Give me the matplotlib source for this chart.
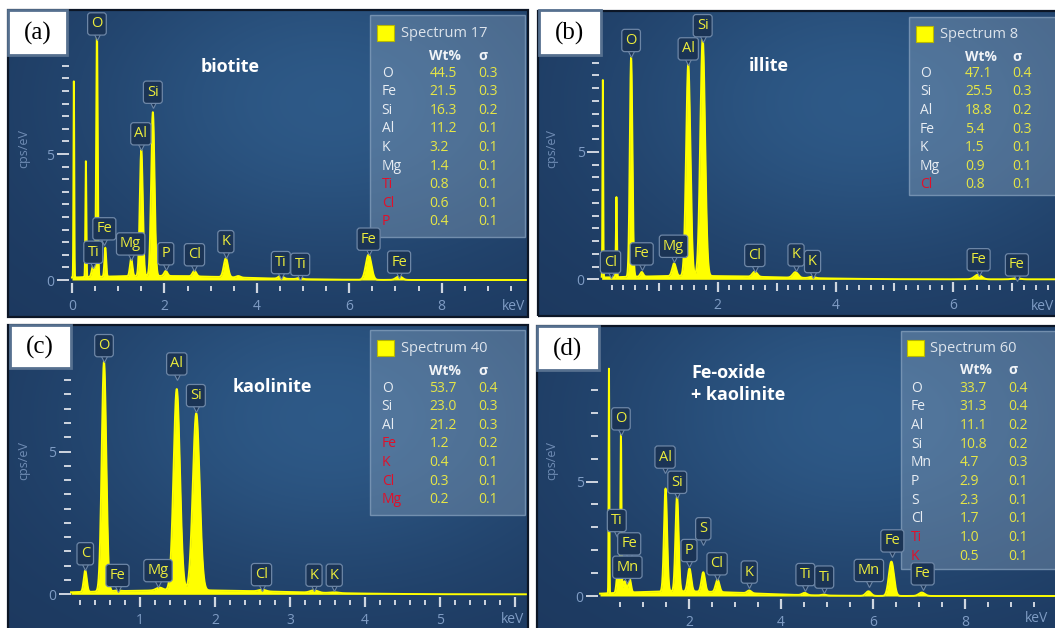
"""
EDS spectra of four clay grains: (a) biotite, (b) illite, (c) kaolinite,
(d) Fe-oxide + kaolinite. Peaks and quantification tables read off the
original instrument screenshots.
"""

import numpy as np
import matplotlib
matplotlib.use("Agg")
import matplotlib.pyplot as plt
from matplotlib.patches import Rectangle
from matplotlib.transforms import Affine2D
from matplotlib.ticker import FixedLocator

W, H = 1055, 628

# --- (a) biotite -------------------------------------------------------------
A_PEAK_KEV = [0.04, 0.30, 0.46, 0.54, 0.72, 1.28, 1.50, 1.75, 2.03, 2.65, 3.33, 3.60, 4.52, 4.93, 6.42, 7.08]
A_PEAK_CPS = [7.8, 4.6, 0.45, 9.7, 1.15, 0.7, 5.0, 6.5, 0.2, 0.22, 0.75, 0.06, 0.12, 0.05, 1.0, 0.15]
A_PEAK_SIG = [0.008, 0.01, 0.03, 0.016, 0.018, 0.026, 0.032, 0.036, 0.035, 0.04, 0.045, 0.045, 0.05, 0.05, 0.06, 0.065]
A_CONTINUUM = (1.8, 0.16, 1.8)          # centre keV, cps/eV, width keV
A_TAG_EL = ["O", "Si", "Al", "Fe", "Ti", "Mg", "P", "Cl", "K", "Ti", "Ti", "Fe", "Fe"]
A_TAG_KEV = [0.54, 1.75, 1.49, 0.70, 0.46, 1.27, 2.03, 2.65, 3.33, 4.52, 4.94, 6.42, 7.08]
A_SPECTRUM = "Spectrum 17"
A_EL = ["O", "Fe", "Si", "Al", "K", "Mg", "Ti", "Cl", "P"]
A_WT = [44.5, 21.5, 16.3, 11.2, 3.2, 1.4, 0.8, 0.6, 0.4]
A_SIGMA = [0.3, 0.3, 0.2, 0.1, 0.1, 0.1, 0.1, 0.1, 0.1]
A_FLAGGED = ["Ti", "Cl", "P"]
A_NAME = "biotite"

# --- (b) illite --------------------------------------------------------------
B_PEAK_KEV = [0.05, 0.28, 0.53, 0.71, 1.26, 1.50, 1.745, 2.63, 3.32, 3.60, 6.42, 7.07]
B_PEAK_CPS = [7.75, 3.15, 8.6, 0.18, 0.5, 8.3, 9.3, 0.2, 0.22, 0.05, 0.18, 0.04]
B_PEAK_SIG = [0.006, 0.008, 0.022, 0.025, 0.032, 0.036, 0.04, 0.04, 0.045, 0.045, 0.06, 0.065]
B_CONTINUUM = (1.6, 0.13, 1.4)
B_TAG_EL = ["O", "Al", "Si", "Cl", "Fe", "Mg", "Cl", "K", "K", "Fe", "Fe"]
B_TAG_KEV = [0.53, 1.50, 1.745, 0.18, 0.71, 1.25, 2.63, 3.33, 3.61, 6.43, 7.08]
B_SPECTRUM = "Spectrum 8"
B_EL = ["O", "Si", "Al", "Fe", "K", "Mg", "Cl"]
B_WT = [47.1, 25.5, 18.8, 5.4, 1.5, 0.9, 0.8]
B_SIGMA = [0.4, 0.3, 0.2, 0.3, 0.1, 0.1, 0.1]
B_FLAGGED = ["Cl"]
B_NAME = "illite"

# --- (c) kaolinite -----------------------------------------------------------
C_PEAK_KEV = [0.27, 0.52, 0.70, 1.26, 1.49, 1.75, 2.63, 3.32, 3.59]
C_PEAK_CPS = [0.75, 8.05, 0.03, 0.1, 7.05, 6.2, 0.06, 0.08, 0.03]
C_PEAK_SIG = [0.02, 0.03, 0.035, 0.045, 0.042, 0.045, 0.045, 0.05, 0.05]
C_CONTINUUM = (1.6, 0.14, 1.3)
C_TAG_EL = ["O", "Al", "Si", "C", "Fe", "Mg", "Cl", "K", "K"]
C_TAG_KEV = [0.52, 1.49, 1.745, 0.27, 0.70, 1.24, 2.62, 3.32, 3.59]
C_SPECTRUM = "Spectrum 40"
C_EL = ["O", "Si", "Al", "Fe", "K", "Cl", "Mg"]
C_WT = [53.7, 23.0, 21.2, 1.2, 0.4, 0.3, 0.2]
C_SIGMA = [0.4, 0.3, 0.3, 0.2, 0.1, 0.1, 0.1]
C_FLAGGED = ["Fe", "K", "Cl", "Mg"]
C_NAME = "kaolinite"

# --- (d) Fe-oxide + kaolinite ------------------------------------------------
D_PEAK_KEV = [0.26, 0.45, 0.52, 0.60, 0.71, 1.49, 1.74, 2.01, 2.31, 2.62, 3.31, 4.51, 4.93, 5.90, 6.40, 7.06]
D_PEAK_CPS = [9.9, 0.9, 6.9, 0.5, 0.6, 4.5, 4.15, 1.0, 0.85, 0.55, 0.12, 0.1, 0.04, 0.2, 1.5, 0.15]
D_PEAK_SIG = [0.007, 0.025, 0.012, 0.03, 0.028, 0.033, 0.034, 0.038, 0.038, 0.04, 0.045, 0.05, 0.05, 0.055, 0.055, 0.065]
D_CONTINUUM = (1.8, 0.2, 1.5)
D_TAG_EL = ["O", "Al", "Si", "Ti", "Fe", "Mn", "P", "S", "Cl", "K", "Ti", "Ti", "Mn", "Fe", "Fe"]
D_TAG_KEV = [0.52, 1.48, 1.745, 0.43, 0.70, 0.66, 2.0, 2.31, 2.61, 3.31, 4.53, 4.94, 5.91, 6.42, 7.08]
D_SPECTRUM = "Spectrum 60"
D_EL = ["O", "Fe", "Al", "Si", "Mn", "P", "S", "Cl", "Ti", "K"]
D_WT = [33.7, 31.3, 11.1, 10.8, 4.7, 2.9, 2.3, 1.7, 1.0, 0.5]
D_SIGMA = [0.4, 0.4, 0.2, 0.2, 0.3, 0.1, 0.1, 0.1, 0.1, 0.1]
D_FLAGGED = ["Ti", "K"]
D_NAME = "Fe-oxide\n+ kaolinite"

# --- layout (pixel positions inside the 1055x628 canvas) ----------------------
LAYOUT = {
    "a": dict(frame=(8, 10, 528, 317), x0=72.0, ppk=46.2, y0=280.0, ppu=25.2, e0=0.0,
              yspine=68.5, ystep=0.5, ytop=8.5, xminor=0.5, xend=9.6, xmajor=[0, 2, 4, 6, 8],
              xlab=["0", "2", "4", "6", "8"], xmid=None, kev=9.55, kev_dy=27,
              tag=(8, 10, 67, 55), name=(230, 67, "center"), cps=(23.5, 148),
              tag_y=[9.72, 7.01, 5.36, 1.59, 0.66, 0.99, 0.6, 0.56, 1.08, 0.25, 0.18, 1.18, 0.27],
              leg=dict(box=(370, 15, 525, 237), sq=(377, 25, 17), title=(401, 33.3), head=55.7,
                       row0=73.3, dy=18.55, el=381.7, wt=429.3, sg=478.3)),
    "b": dict(frame=(538, 11, 1060, 316), x0=599.9, ppk=58.9, y0=279.3, ppu=25.5, e0=0.03,
              yspine=599.4, ystep=0.5, ytop=8.5, xminor=0.2, xend=7.8, xmajor=[2, 4, 6],
              xlab=["2", "4", "6"], xmid=[1, 3, 5, 7], kev=7.52, kev_dy=27,
              tag=(539, 10, 601, 55), name=(769, 66, "center"), cps=(552, 148),
              tag_y=[8.93, 8.6, 9.51, 0.24, 0.56, 0.86, 0.5, 0.52, 0.26, 0.33, 0.13],
              leg=dict(box=(909, 17, 1060, 195), sq=(916, 26, 17), title=(940, 34), head=56.7,
                       row0=73.3, dy=18.57, el=920, wt=965, sg=1012.7)),
    "c": dict(frame=(8, 325, 528, 632), x0=65.0, ppk=75.0, y0=594.3, ppu=28.55, e0=0.08,
              yspine=70.5, ystep=0.5, ytop=7.5, xminor=0.2, xend=6.1, xmajor=[1, 2, 3, 4, 5, 6],
              xlab=["1", "2", "3", "4", "5", ""], xmid=None, kev=5.97, kev_dy=25,
              tag=(9.5, 325, 71, 368), name=(272, 387, "center"), cps=(23.5, 460),
              tag_y=[8.32, 7.68, 6.57, 1.03, 0.27, 0.44, 0.3, 0.28, 0.28],
              leg=dict(box=(370, 330, 525, 515), sq=(377, 340, 17), title=(401, 348.3), head=370.7,
                       row0=388.3, dy=18.55, el=381.7, wt=429.3, sg=478.3)),
    "d": dict(frame=(537, 326, 1060, 632), x0=597.0, ppk=46.0, y0=596.0, ppu=22.9, e0=0.065,
              yspine=598.3, ystep=1.0, ytop=9.0, xminor=0.5, xend=10.0, xmajor=[2, 4, 6, 8],
              xlab=["2", "4", "6", "8"], xmid=None, kev=9.56, kev_dy=23,
              tag=(537, 326, 599, 370), name=(691, 372.8, "left"), cps=(552, 460),
              tag_y=[7.25, 5.58, 4.48, 2.81, 1.79, 0.77, 1.5, 2.45, 0.92, 0.56, 0.45, 0.34, 0.63, 1.92, 0.48],
              leg=dict(box=(901, 331, 1060, 569), sq=(907, 340, 17), title=(930.5, 348), head=370,
                       row0=388, dy=18.7, el=911, wt=959.7, sg=1008.5)),
}

YELLOW = "#ffff00"
TICK = "#cfd6e0"
TICKLAB = "#7f9cc4"
BOXFACE = "#1b3455"
BOXEDGE = "#6d86a6"
TAGTXT = "#ecec3c"
WTTXT = "#e6e646"
ELTXT = "#e8edf3"
REDTXT = "#e0102a"

plt.rcParams["font.family"] = ["Open Sans", "DejaVu Sans"]


def spectrum(e, kev, cps, sig, cont):
    y = cont[1] * np.exp(-0.5 * ((e - cont[0]) / cont[2]) ** 2)
    for k, c, s in zip(kev, cps, sig):
        y = y + c * np.exp(-0.5 * ((e - k) / s) ** 2)
    return y


def backdrop(ax):
    u = np.linspace(0, 1, 200)[None, :]
    v = np.linspace(1, 0, 120)[:, None]
    g = np.exp(-((u - 0.62) / 0.5) ** 2 - ((v - 0.7) / 0.55) ** 2)
    dark = np.array([0.11, 0.22, 0.37])
    light = np.array([0.18, 0.35, 0.53])
    img = dark + (light - dark) * g[..., None]
    ax.imshow(img, extent=(0, 1, 0, 1), transform=ax.transAxes, aspect="auto",
              zorder=0, interpolation="bilinear")


def draw_panel(fig, pix, letter, lay, kev, cps, sig, cont, tag_el, tag_kev,
               spec_name, els, wts, sigmas, flagged, name):
    l, t, r, b = lay["frame"]
    x0, ppk, y0, ppu = lay["x0"], lay["ppk"], lay["y0"], lay["ppu"]
    ax = fig.add_axes([l / W, 1 - b / H, (r - l) / W, (b - t) / H])
    backdrop(ax)
    xlim = ((l - x0) / ppk, (r - x0) / ppk)
    ylim = ((y0 - b) / ppu, (y0 - t) / ppu)

    # spectrum
    e = np.linspace(lay["e0"], xlim[1], 5000)
    y = spectrum(e, kev, cps, sig, cont)
    ax.fill_between(e, 0, y, color=YELLOW, lw=0, zorder=3)
    ax.plot(e, y, color=YELLOW, lw=1.4, zorder=3)

    ax.set_xlim(*xlim)
    ax.set_ylim(*ylim)

    # axes: ticks only, spines hidden and moved to where the ticks sit
    for s in ax.spines.values():
        s.set_visible(False)
    ax.spines["left"].set_position(("data", (lay["yspine"] - x0) / ppk))
    ax.spines["bottom"].set_position(("data", -7.5 / ppu))
    ax.xaxis.set_ticks_position("bottom")
    ax.yaxis.set_ticks_position("left")

    ax.yaxis.set_major_locator(FixedLocator([0, 5]))
    ax.set_yticklabels(["0", "5"])
    ax.yaxis.set_minor_locator(FixedLocator(np.arange(0, lay["ytop"] + 1e-6, lay["ystep"])))
    ax.xaxis.set_major_locator(FixedLocator(lay["xmajor"]))
    ax.set_xticklabels(lay["xlab"])
    ax.xaxis.set_minor_locator(FixedLocator(np.arange(lay["xminor"], lay["xend"], lay["xminor"])))

    ax.tick_params(axis="x", which="major", direction="inout", length=7, width=1.6,
                   color=TICK, labelsize=10, labelcolor=TICKLAB, pad=4.5)
    ax.tick_params(axis="x", which="minor", direction="inout", length=3.6, width=1.4, color=TICK)
    ax.tick_params(axis="y", which="major", direction="out", length=8.6, width=1.4,
                   color=TICK, labelsize=10, labelcolor=TICKLAB, pad=2)
    ax.tick_params(axis="y", which="minor", direction="out", length=4.8, width=1.4, color=TICK)

    if lay["xmid"]:
        frac = (-7.5 / ppu - ylim[0]) / (ylim[1] - ylim[0])
        sec = ax.secondary_xaxis(frac)
        sec.set_xticks(lay["xmid"])
        sec.set_xticklabels([])
        sec.tick_params(direction="inout", length=5.2, width=1.5, color=TICK)
        for s in sec.spines.values():
            s.set_visible(False)

    # peak tags
    for el, k, yb in zip(tag_el, tag_kev, lay["tag_y"]):
        ax.plot([k], [yb], marker="v", ms=7, mfc=BOXFACE, mec=BOXEDGE, mew=0.8,
                zorder=6)
        ax.annotate(el, xy=(k, yb), xytext=(0, 2.6), textcoords="offset points",
                    ha="center", va="bottom", fontsize=10.5, color=TAGTXT, zorder=7,
                    bbox=dict(boxstyle="round,pad=0.25,rounding_size=0.2",
                              fc=BOXFACE, ec=BOXEDGE, lw=0.9))

    # axis texts
    ax.text(lay["cps"][0], lay["cps"][1], "cps/eV", transform=pix, rotation=90,
            ha="center", va="center", fontsize=9, color="#6f8cb4")
    ax.text(x0 + lay["kev"] * ppk, y0 + lay["kev_dy"], "keV", transform=pix, ha="center",
            va="center", fontsize=10, color=TICKLAB)

    # mineral name
    nx, ny, ha = lay["name"]
    for i, line in enumerate(name.split("\n")):
        ax.text(nx, ny + 22 * i, line, transform=pix, ha=ha, va="center",
                fontsize=13, fontweight="bold", color="white", zorder=8)

    # quantification table
    lg = lay["leg"]
    bl, bt, br, bb = lg["box"]
    ax.add_patch(Rectangle((bl, bt), br - bl, bb - bt, transform=pix,
                           fc=(0.62, 0.71, 0.80, 0.33), ec=(0.55, 0.65, 0.76, 0.7),
                           lw=1.0, zorder=5))
    sx, sy, ss = lg["sq"]
    ax.add_patch(Rectangle((sx, sy), ss, ss - 1, transform=pix, fc=YELLOW,
                           ec="#b8b800", lw=0.8, zorder=5.5))
    ax.text(lg["title"][0], lg["title"][1], spec_name, transform=pix, ha="left",
            va="center", fontsize=10.5, color="#dde4ec", zorder=5.5)
    ax.text(lg["wt"], lg["head"], "Wt%", transform=pix, ha="left", va="center",
            fontsize=10, fontweight="bold", color="#f0f3f7", zorder=5.5)
    ax.text(lg["sg"], lg["head"], "σ", transform=pix, ha="left", va="center",
            fontsize=10, fontweight="bold", color="#f0f3f7", zorder=5.5)
    for i, (el, wt, sg) in enumerate(zip(els, wts, sigmas)):
        yy = lg["row0"] + i * lg["dy"]
        ax.text(lg["el"], yy, el, transform=pix, ha="left", va="center", fontsize=10,
                color=REDTXT if el in flagged else ELTXT, zorder=5.5)
        ax.text(lg["wt"], yy, f"{wt:.1f}", transform=pix, ha="left", va="center",
                fontsize=10, color=WTTXT, zorder=5.5)
        ax.text(lg["sg"], yy, f"{sg:.1f}", transform=pix, ha="left", va="center",
                fontsize=10, color=WTTXT, zorder=5.5)

    # frame and panel letter
    ax.add_patch(Rectangle((0, 0), 1, 1, transform=ax.transAxes, fill=False,
                           ec="#0c1626", lw=1.6, zorder=10, clip_on=False))
    tl, tt, tr, tb = lay["tag"]
    ax.add_patch(Rectangle((tl, tt), tr - tl, tb - tt, transform=pix, fc="white",
                           ec="#56708f", lw=2.0, zorder=11, clip_on=False))
    ax.text((tl + tr) / 2, (tt + tb) / 2 + 1, f"({letter})", transform=pix,
            ha="center", va="center", fontsize=18, family="Liberation Serif",
            color="black", zorder=12)
    return ax


def main():
    fig = plt.figure(figsize=(W / 100, H / 100), dpi=100)
    fig.patch.set_facecolor("white")
    pix = Affine2D().scale(1.0 / W, -1.0 / H).translate(0, 1) + fig.transFigure

    draw_panel(fig, pix, "a", LAYOUT["a"], A_PEAK_KEV, A_PEAK_CPS, A_PEAK_SIG, A_CONTINUUM,
               A_TAG_EL, A_TAG_KEV, A_SPECTRUM, A_EL, A_WT, A_SIGMA, A_FLAGGED, A_NAME)
    draw_panel(fig, pix, "b", LAYOUT["b"], B_PEAK_KEV, B_PEAK_CPS, B_PEAK_SIG, B_CONTINUUM,
               B_TAG_EL, B_TAG_KEV, B_SPECTRUM, B_EL, B_WT, B_SIGMA, B_FLAGGED, B_NAME)
    draw_panel(fig, pix, "c", LAYOUT["c"], C_PEAK_KEV, C_PEAK_CPS, C_PEAK_SIG, C_CONTINUUM,
               C_TAG_EL, C_TAG_KEV, C_SPECTRUM, C_EL, C_WT, C_SIGMA, C_FLAGGED, C_NAME)
    draw_panel(fig, pix, "d", LAYOUT["d"], D_PEAK_KEV, D_PEAK_CPS, D_PEAK_SIG, D_CONTINUUM,
               D_TAG_EL, D_TAG_KEV, D_SPECTRUM, D_EL, D_WT, D_SIGMA, D_FLAGGED, D_NAME)

    fig.savefig("out.png", dpi=100)


if __name__ == "__main__":
    main()
